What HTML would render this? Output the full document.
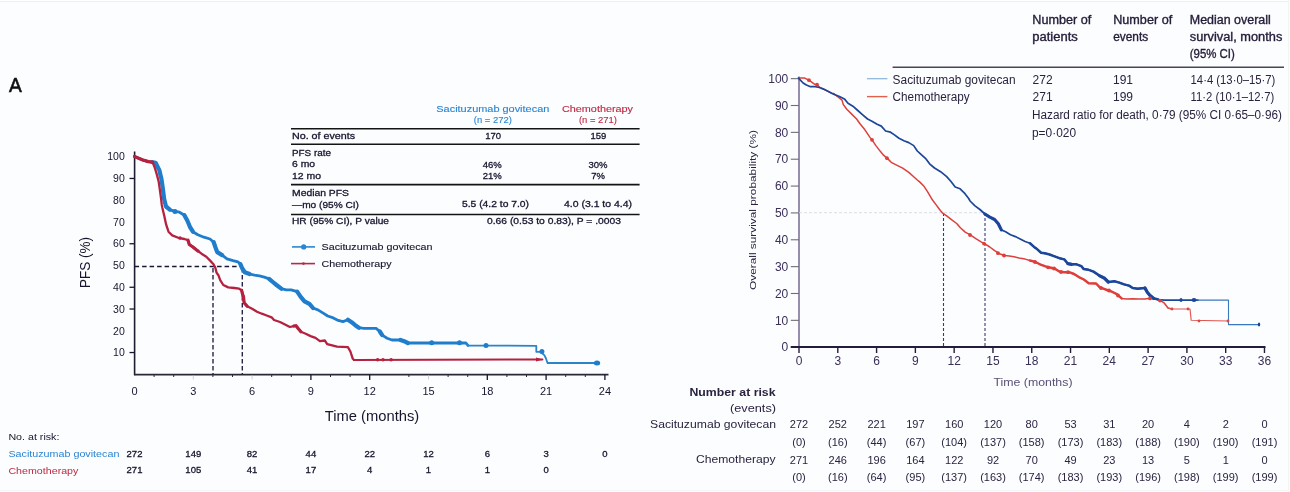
<!DOCTYPE html>
<html><head><meta charset="utf-8"><style>
html,body{margin:0;padding:0;background:#fcfdff;}
body{width:1290px;height:492px;overflow:hidden;}
svg{display:block;font-family:"Liberation Sans",sans-serif;will-change:transform;}
</style></head><body>
<svg width="1290" height="492" viewBox="0 0 1290 492">
<rect x="0" y="0" width="1290" height="492" fill="#fcfdff"/>
<rect x="0" y="0" width="1290" height="1" fill="#ffffff"/><rect x="0" y="1" width="1290" height="1" fill="#eeeff2"/><rect x="1288" y="0" width="1" height="492" fill="#f3f4f0"/><rect x="1289" y="0" width="1" height="492" fill="#ffffff"/><rect x="0" y="490" width="1288" height="1" fill="#f5f6f8"/>
<text x="9.0" y="91.9" font-size="21" fill="#111" stroke="#111" stroke-width="0.6" textLength="12.8" lengthAdjust="spacingAndGlyphs">A</text>
<line x1="134.6" y1="151.5" x2="134.6" y2="375.2" stroke="#1e1c30" stroke-width="1.6"/>
<line x1="134" y1="374.6" x2="608.5" y2="374.6" stroke="#2a2838" stroke-width="1.6"/>
<line x1="129.5" y1="352.54" x2="134.6" y2="352.54" stroke="#17152e" stroke-width="1.3"/>
<text x="124.8" y="356.2" font-size="10.5" fill="#17152e" text-anchor="end">10</text>
<text x="124.8" y="334.5" font-size="10.5" fill="#17152e" text-anchor="end">20</text>
<line x1="129.5" y1="309.02" x2="134.6" y2="309.02" stroke="#17152e" stroke-width="1.3"/>
<text x="124.8" y="312.7" font-size="10.5" fill="#17152e" text-anchor="end">30</text>
<line x1="129.5" y1="287.26" x2="134.6" y2="287.26" stroke="#17152e" stroke-width="1.3"/>
<text x="124.8" y="290.9" font-size="10.5" fill="#17152e" text-anchor="end">40</text>
<text x="124.8" y="269.2" font-size="10.5" fill="#17152e" text-anchor="end">50</text>
<line x1="129.5" y1="243.74" x2="134.6" y2="243.74" stroke="#17152e" stroke-width="1.3"/>
<text x="124.8" y="247.4" font-size="10.5" fill="#17152e" text-anchor="end">60</text>
<text x="124.8" y="225.7" font-size="10.5" fill="#17152e" text-anchor="end">70</text>
<text x="124.8" y="203.9" font-size="10.5" fill="#17152e" text-anchor="end">80</text>
<line x1="129.5" y1="178.46" x2="134.6" y2="178.46" stroke="#17152e" stroke-width="1.3"/>
<text x="124.8" y="182.1" font-size="10.5" fill="#17152e" text-anchor="end">90</text>
<text x="124.8" y="160.4" font-size="10.5" fill="#17152e" text-anchor="end">100</text>
<text x="134.5" y="395.2" font-size="11" fill="#17152e" text-anchor="middle">0</text>
<line x1="193.3" y1="375.5" x2="193.3" y2="379.5" stroke="#d0d0d8" stroke-width="1.0"/>
<text x="193.3" y="395.2" font-size="11" fill="#17152e" text-anchor="middle">3</text>
<line x1="252.10000000000002" y1="375.5" x2="252.10000000000002" y2="379.5" stroke="#d0d0d8" stroke-width="1.0"/>
<text x="252.1" y="395.2" font-size="11" fill="#17152e" text-anchor="middle">6</text>
<line x1="310.9" y1="374.6" x2="310.9" y2="380" stroke="#17152e" stroke-width="1.3"/>
<text x="310.9" y="395.2" font-size="11" fill="#17152e" text-anchor="middle">9</text>
<line x1="369.70000000000005" y1="374.6" x2="369.70000000000005" y2="380" stroke="#17152e" stroke-width="1.3"/>
<text x="369.7" y="395.2" font-size="11" fill="#17152e" text-anchor="middle">12</text>
<line x1="428.5" y1="375.5" x2="428.5" y2="379.5" stroke="#d0d0d8" stroke-width="1.0"/>
<text x="428.5" y="395.2" font-size="11" fill="#17152e" text-anchor="middle">15</text>
<line x1="487.3" y1="374.6" x2="487.3" y2="380" stroke="#17152e" stroke-width="1.3"/>
<text x="487.3" y="395.2" font-size="11" fill="#17152e" text-anchor="middle">18</text>
<line x1="546.1" y1="374.6" x2="546.1" y2="380" stroke="#17152e" stroke-width="1.3"/>
<text x="546.1" y="395.2" font-size="11" fill="#17152e" text-anchor="middle">21</text>
<line x1="604.9000000000001" y1="374.6" x2="604.9000000000001" y2="380" stroke="#17152e" stroke-width="1.3"/>
<text x="604.9" y="395.2" font-size="11" fill="#17152e" text-anchor="middle">24</text>
<line x1="154.1" y1="374.6" x2="154.1" y2="377" stroke="#2a2838" stroke-width="1.0"/>
<line x1="173.7" y1="374.6" x2="173.7" y2="377" stroke="#2a2838" stroke-width="1.0"/>
<line x1="212.9" y1="374.6" x2="212.9" y2="377" stroke="#2a2838" stroke-width="1.0"/>
<line x1="232.5" y1="374.6" x2="232.5" y2="377" stroke="#2a2838" stroke-width="1.0"/>
<line x1="271.70000000000005" y1="374.6" x2="271.70000000000005" y2="377" stroke="#2a2838" stroke-width="1.0"/>
<line x1="291.3" y1="374.6" x2="291.3" y2="377" stroke="#2a2838" stroke-width="1.0"/>
<line x1="330.5" y1="374.6" x2="330.5" y2="377" stroke="#2a2838" stroke-width="1.0"/>
<line x1="350.1" y1="374.6" x2="350.1" y2="377" stroke="#2a2838" stroke-width="1.0"/>
<line x1="408.90000000000003" y1="374.6" x2="408.90000000000003" y2="377" stroke="#2a2838" stroke-width="1.0"/>
<line x1="448.1" y1="374.6" x2="448.1" y2="377" stroke="#2a2838" stroke-width="1.0"/>
<line x1="467.70000000000005" y1="374.6" x2="467.70000000000005" y2="377" stroke="#2a2838" stroke-width="1.0"/>
<line x1="506.90000000000003" y1="374.6" x2="506.90000000000003" y2="377" stroke="#2a2838" stroke-width="1.0"/>
<line x1="526.5" y1="374.6" x2="526.5" y2="377" stroke="#2a2838" stroke-width="1.0"/>
<line x1="565.7" y1="374.6" x2="565.7" y2="377" stroke="#2a2838" stroke-width="1.0"/>
<line x1="585.3" y1="374.6" x2="585.3" y2="377" stroke="#2a2838" stroke-width="1.0"/>
<text x="85.5" y="267.4" font-size="14" fill="#17152e" text-anchor="middle" textLength="51" lengthAdjust="spacingAndGlyphs" transform="rotate(-90 85.5 262.5)">PFS (%)</text>
<text x="372.0" y="421.1" font-size="14.5" fill="#17152e" text-anchor="middle" textLength="94.5" lengthAdjust="spacingAndGlyphs">Time (months)</text>
<text x="492.8" y="111.5" font-size="9.5" fill="#2a84d0" stroke="#2a84d0" stroke-width="0.12" text-anchor="middle" textLength="113" lengthAdjust="spacingAndGlyphs">Sacituzumab govitecan</text>
<text x="492.8" y="123.0" font-size="9.5" fill="#2a84d0" stroke="#2a84d0" stroke-width="0.12" text-anchor="middle" textLength="38" lengthAdjust="spacingAndGlyphs">(n = 272)</text>
<text x="597.5" y="111.5" font-size="9.5" fill="#c0283f" stroke="#c0283f" stroke-width="0.12" text-anchor="middle" textLength="71" lengthAdjust="spacingAndGlyphs">Chemotherapy</text>
<text x="597.9" y="123.0" font-size="9.5" fill="#c0283f" stroke="#c0283f" stroke-width="0.12" text-anchor="middle" textLength="38" lengthAdjust="spacingAndGlyphs">(n = 271)</text>
<line x1="291" y1="128.8" x2="639.6" y2="128.8" stroke="#141414" stroke-width="1.6"/>
<line x1="291" y1="144.2" x2="639.6" y2="144.2" stroke="#141414" stroke-width="1.6"/>
<line x1="291" y1="184.6" x2="639.6" y2="184.6" stroke="#141414" stroke-width="1.6"/>
<line x1="291" y1="214.5" x2="639.6" y2="214.5" stroke="#141414" stroke-width="1.6"/>
<text x="292.0" y="138.9" font-size="9.5" fill="#17152e" stroke="#17152e" stroke-width="0.3" textLength="63" lengthAdjust="spacingAndGlyphs">No. of events</text>
<text x="493.2" y="138.9" font-size="9.5" fill="#17152e" stroke="#17152e" stroke-width="0.3" text-anchor="middle">170</text>
<text x="598.4" y="138.9" font-size="9.5" fill="#17152e" stroke="#17152e" stroke-width="0.3" text-anchor="middle">159</text>
<text x="292.0" y="155.9" font-size="9.5" fill="#17152e" stroke="#17152e" stroke-width="0.3" textLength="39" lengthAdjust="spacingAndGlyphs">PFS rate</text>
<text x="292.0" y="167.4" font-size="9.5" fill="#17152e" stroke="#17152e" stroke-width="0.3" textLength="23" lengthAdjust="spacingAndGlyphs">6 mo</text>
<text x="292.0" y="179.0" font-size="9.5" fill="#17152e" stroke="#17152e" stroke-width="0.3" textLength="29" lengthAdjust="spacingAndGlyphs">12 mo</text>
<text x="492.3" y="167.5" font-size="9.5" fill="#17152e" stroke="#17152e" stroke-width="0.3" text-anchor="middle">46%</text>
<text x="598.0" y="167.5" font-size="9.5" fill="#17152e" stroke="#17152e" stroke-width="0.3" text-anchor="middle">30%</text>
<text x="492.3" y="178.9" font-size="9.5" fill="#17152e" stroke="#17152e" stroke-width="0.3" text-anchor="middle">21%</text>
<text x="598.0" y="178.9" font-size="9.5" fill="#17152e" stroke="#17152e" stroke-width="0.3" text-anchor="middle">7%</text>
<text x="292.0" y="195.9" font-size="9.5" fill="#17152e" stroke="#17152e" stroke-width="0.3" textLength="57" lengthAdjust="spacingAndGlyphs">Median PFS</text>
<text x="292.0" y="207.8" font-size="9.5" fill="#17152e" stroke="#17152e" stroke-width="0.3" textLength="67" lengthAdjust="spacingAndGlyphs">—mo (95% CI)</text>
<text x="495.5" y="207.3" font-size="9.5" fill="#17152e" stroke="#17152e" stroke-width="0.3" text-anchor="middle" textLength="67" lengthAdjust="spacingAndGlyphs">5.5 (4.2 to 7.0)</text>
<text x="598.0" y="207.3" font-size="9.5" fill="#17152e" stroke="#17152e" stroke-width="0.3" text-anchor="middle" textLength="68" lengthAdjust="spacingAndGlyphs">4.0 (3.1 to 4.4)</text>
<text x="292.0" y="224.1" font-size="9.5" fill="#17152e" stroke="#17152e" stroke-width="0.3" textLength="97" lengthAdjust="spacingAndGlyphs">HR (95% CI), P value</text>
<text x="554.0" y="224.1" font-size="9.5" fill="#17152e" stroke="#17152e" stroke-width="0.3" text-anchor="middle" textLength="134" lengthAdjust="spacingAndGlyphs">0.66 (0.53 to 0.83), P = .0003</text>
<line x1="292" y1="246.9" x2="315" y2="246.9" stroke="#2a86d0" stroke-width="1.6"/>
<circle cx="303.7" cy="246.9" r="2.6" fill="#2a86d0"/>
<text x="321.5" y="250.3" font-size="9.5" fill="#17152e" stroke="#17152e" stroke-width="0.12" textLength="111" lengthAdjust="spacingAndGlyphs">Sacituzumab govitecan</text>
<line x1="291" y1="263.6" x2="315" y2="263.6" stroke="#b8284a" stroke-width="1.6"/>
<circle cx="303.5" cy="263.6" r="1.3" fill="#b42a42"/>
<text x="321.5" y="266.8" font-size="9.5" fill="#17152e" stroke="#17152e" stroke-width="0.12" textLength="70" lengthAdjust="spacingAndGlyphs">Chemotherapy</text>
<line x1="134.6" y1="266.5" x2="240" y2="266.5" stroke="#1a1830" stroke-width="1.6" stroke-dasharray="4.5,3"/>
<line x1="213" y1="268" x2="213" y2="374" stroke="#2a2248" stroke-width="1.4" stroke-dasharray="4.5,2.5"/>
<line x1="242.3" y1="268" x2="242.3" y2="374" stroke="#2a2248" stroke-width="1.4" stroke-dasharray="4.5,2.5"/>
<polyline points="134.5,156.5 142.2,159.8 148.3,161.6 152.6,162.2 155.6,162.8 159.3,170.1 161.5,179.3 162.9,189.0 164.1,198.8 166.0,206.5 169.8,209.6 174.6,211.4 179.5,212.2 184.4,215.2 187.4,220.7 189.9,226.8 192.9,231.7 197.8,234.8 203.9,237.2 210.0,239.0 213.7,242.2 215.5,247.5 217.2,252.1 222.1,255.1 227.0,258.8 233.0,260.6 237.9,261.8 240.4,264.2 242.3,268.5 244.8,272.2 249.6,274.0 254.5,275.2 259.4,275.9 264.3,277.1 269.1,278.9 272.8,282.0 276.5,285.0 281.3,288.7 286.2,289.9 291.1,289.8 297.2,291.6 300.9,297.1 304.5,301.3 309.4,303.8 313.0,308.0 317.9,309.9 322.8,312.9 327.7,316.0 333.3,317.9 338.2,320.4 343.0,321.6 347.9,319.8 351.6,322.2 355.2,325.2 358.9,327.7 363.8,328.3 376.1,328.4 379.8,331.5 382.2,335.1 387.1,338.2 392.0,340.0 400.5,340.0 404.1,341.2 407.8,343.0 466.0,343.0 468.0,345.5" fill="none" stroke="#1f7dcc" stroke-width="2.8" stroke-linejoin="round" stroke-linecap="round" />
<polyline points="466.0,343.0 468.0,345.5 536.3,345.8 536.3,351.8 540.4,351.8 544.5,355.4 546.0,358.5 547.5,363.0 598.0,363.0" fill="none" stroke="#2a84c8" stroke-width="1.8" stroke-linejoin="round" stroke-linecap="round" />
<polyline points="152.6,162.2 155.6,162.8 159.3,170.1 161.5,179.3 162.9,189.0 164.1,198.8 166.0,206.5 169.8,209.6" fill="none" stroke="#1f7dcc" stroke-width="4.2" stroke-linejoin="round" stroke-linecap="round" />
<polyline points="184.4,215.2 187.4,220.7 189.9,226.8 192.9,231.7" fill="none" stroke="#1f7dcc" stroke-width="4.2" stroke-linejoin="round" stroke-linecap="round" />
<polyline points="213.7,242.2 215.5,247.5 217.2,252.1 222.1,255.1" fill="none" stroke="#1f7dcc" stroke-width="4.2" stroke-linejoin="round" stroke-linecap="round" />
<polyline points="240.4,264.2 242.3,268.5 244.8,272.2 249.6,274.0" fill="none" stroke="#1f7dcc" stroke-width="4.2" stroke-linejoin="round" stroke-linecap="round" />
<polyline points="269.1,278.9 272.8,282.0 276.5,285.0 281.3,288.7" fill="none" stroke="#1f7dcc" stroke-width="4.2" stroke-linejoin="round" stroke-linecap="round" />
<polyline points="297.2,291.6 300.9,297.1 304.5,301.3 309.4,303.8 313.0,308.0" fill="none" stroke="#1f7dcc" stroke-width="4.2" stroke-linejoin="round" stroke-linecap="round" />
<polyline points="347.9,319.8 351.6,322.2 355.2,325.2 358.9,327.7" fill="none" stroke="#1f7dcc" stroke-width="4.2" stroke-linejoin="round" stroke-linecap="round" />
<polyline points="379.8,331.5 382.2,335.1" fill="none" stroke="#1f7dcc" stroke-width="4.2" stroke-linejoin="round" stroke-linecap="round" />
<polyline points="400.5,340.0 404.1,341.2 407.8,343.0" fill="none" stroke="#1f7dcc" stroke-width="4.2" stroke-linejoin="round" stroke-linecap="round" />
<polyline points="134.5,156.5 142.2,159.8 148.3,161.6 152.6,162.2 155.0,168.3 156.8,174.4 158.7,181.7 159.9,190.2 161.1,198.8 161.8,205.0 162.4,208.0 164.3,215.9 166.1,224.4 168.5,231.7 172.2,235.4 178.3,237.8 184.4,239.0 188.0,240.2 189.3,244.5 192.9,247.0 196.6,250.0 201.5,253.7 206.3,256.7 209.9,260.4 213.5,264.3 215.4,267.9 216.6,272.8 218.4,275.2 220.2,280.1 223.3,285.0 228.2,287.4 234.3,288.0 239.1,288.7 241.6,290.3 242.8,295.0 243.5,296.6 244.1,302.7 247.2,306.3 252.1,308.8 257.0,311.8 261.8,313.7 266.7,315.5 271.6,317.3 274.0,320.0 280.0,322.0 285.0,324.5 289.9,327.0 296.0,325.7 298.4,328.8 300.9,331.8 305.7,333.7 310.6,336.1 315.5,337.9 319.9,341.1 324.8,340.5 327.2,344.1 332.1,345.4 337.0,346.6 347.9,347.2 350.4,351.5 352.8,358.8 354.0,360.0" fill="none" stroke="#b5213f" stroke-width="2.3" stroke-linejoin="round" stroke-linecap="round" />
<polyline points="354.0,360.0 542.4,359.5" fill="none" stroke="#b5213f" stroke-width="2.0" stroke-linejoin="round" stroke-linecap="round" />
<polyline points="134.5,156.5 142.2,159.8 148.3,161.6 152.6,162.2" fill="none" stroke="#b5213f" stroke-width="3.2" stroke-linejoin="round" stroke-linecap="round" />
<polyline points="188.0,240.2 189.3,244.5 192.9,247.0 196.6,250.0" fill="none" stroke="#b5213f" stroke-width="3.2" stroke-linejoin="round" stroke-linecap="round" />
<polyline points="241.6,290.3 242.8,295.0 243.5,296.6 244.1,302.7 247.2,306.3" fill="none" stroke="#b5213f" stroke-width="3.2" stroke-linejoin="round" stroke-linecap="round" />
<polyline points="296.0,325.7 298.4,328.8 300.9,331.8" fill="none" stroke="#b5213f" stroke-width="3.2" stroke-linejoin="round" stroke-linecap="round" />
<circle cx="175.0" cy="211.4" r="2.5" fill="#1f7dcc"/>
<circle cx="431.7" cy="342.8" r="2.5" fill="#1f7dcc"/>
<circle cx="459.5" cy="342.8" r="2.5" fill="#1f7dcc"/>
<circle cx="486.0" cy="345.6" r="2.5" fill="#1f7dcc"/>
<circle cx="541.9" cy="351.5" r="2.5" fill="#1f7dcc"/>
<ellipse cx="597" cy="363" rx="3.2" ry="2.5" fill="#1f7dcc"/>
<circle cx="377.6" cy="359.7" r="1.7" fill="#b5213f"/>
<circle cx="383.0" cy="359.7" r="1.7" fill="#b5213f"/>
<circle cx="391.1" cy="359.7" r="1.7" fill="#b5213f"/>
<circle cx="180.0" cy="238.0" r="1.7" fill="#b5213f"/>
<circle cx="198.0" cy="251.0" r="1.7" fill="#b5213f"/>
<circle cx="294.0" cy="326.0" r="1.7" fill="#b5213f"/>
<path d="M536,357.5 L543,359.5 L536,361.5 Z" fill="#b5213f"/>
<text x="8.4" y="439.8" font-size="9" fill="#17152e" textLength="51" lengthAdjust="spacingAndGlyphs">No. at risk:</text>
<text x="8.4" y="456.8" font-size="9.5" fill="#2a84d0" textLength="111" lengthAdjust="spacingAndGlyphs">Sacituzumab govitecan</text>
<text x="8.4" y="473.6" font-size="9.5" fill="#c0283f" textLength="70" lengthAdjust="spacingAndGlyphs">Chemotherapy</text>
<text x="134.5" y="457.0" font-size="9.5" fill="#17152e" stroke="#17152e" stroke-width="0.3" text-anchor="middle">272</text>
<text x="193.3" y="457.0" font-size="9.5" fill="#17152e" stroke="#17152e" stroke-width="0.3" text-anchor="middle">149</text>
<text x="252.1" y="457.0" font-size="9.5" fill="#17152e" stroke="#17152e" stroke-width="0.3" text-anchor="middle">82</text>
<text x="310.9" y="457.0" font-size="9.5" fill="#17152e" stroke="#17152e" stroke-width="0.3" text-anchor="middle">44</text>
<text x="369.7" y="457.0" font-size="9.5" fill="#17152e" stroke="#17152e" stroke-width="0.3" text-anchor="middle">22</text>
<text x="428.5" y="457.0" font-size="9.5" fill="#17152e" stroke="#17152e" stroke-width="0.3" text-anchor="middle">12</text>
<text x="487.3" y="457.0" font-size="9.5" fill="#17152e" stroke="#17152e" stroke-width="0.3" text-anchor="middle">6</text>
<text x="546.1" y="457.0" font-size="9.5" fill="#17152e" stroke="#17152e" stroke-width="0.3" text-anchor="middle">3</text>
<text x="604.9" y="457.0" font-size="9.5" fill="#17152e" stroke="#17152e" stroke-width="0.3" text-anchor="middle">0</text>
<text x="134.5" y="473.1" font-size="9.5" fill="#17152e" stroke="#17152e" stroke-width="0.3" text-anchor="middle">271</text>
<text x="193.3" y="473.1" font-size="9.5" fill="#17152e" stroke="#17152e" stroke-width="0.3" text-anchor="middle">105</text>
<text x="252.1" y="473.1" font-size="9.5" fill="#17152e" stroke="#17152e" stroke-width="0.3" text-anchor="middle">41</text>
<text x="310.9" y="473.1" font-size="9.5" fill="#17152e" stroke="#17152e" stroke-width="0.3" text-anchor="middle">17</text>
<text x="369.7" y="473.1" font-size="9.5" fill="#17152e" stroke="#17152e" stroke-width="0.3" text-anchor="middle">4</text>
<text x="428.5" y="473.1" font-size="9.5" fill="#17152e" stroke="#17152e" stroke-width="0.3" text-anchor="middle">1</text>
<text x="487.3" y="473.1" font-size="9.5" fill="#17152e" stroke="#17152e" stroke-width="0.3" text-anchor="middle">1</text>
<text x="546.1" y="473.1" font-size="9.5" fill="#17152e" stroke="#17152e" stroke-width="0.3" text-anchor="middle">0</text>
<line x1="799" y1="76.5" x2="799" y2="347" stroke="#76698f" stroke-width="1.5"/>
<line x1="790.7" y1="347" x2="1265.5" y2="347" stroke="#241c3a" stroke-width="2"/>
<text x="788.3" y="351.4" font-size="12" fill="#3a2f58" text-anchor="end">0</text>
<line x1="790.8" y1="320.34499999999997" x2="799" y2="320.34499999999997" stroke="#6e6e78" stroke-width="1.1"/>
<text x="788.3" y="324.5" font-size="12" fill="#3a2f58" text-anchor="end">10</text>
<line x1="790.8" y1="293.49" x2="799" y2="293.49" stroke="#6e6e78" stroke-width="1.1"/>
<text x="788.3" y="297.7" font-size="12" fill="#3a2f58" text-anchor="end">20</text>
<line x1="790.8" y1="266.635" x2="799" y2="266.635" stroke="#6e6e78" stroke-width="1.1"/>
<text x="788.3" y="270.8" font-size="12" fill="#3a2f58" text-anchor="end">30</text>
<line x1="790.8" y1="239.77999999999997" x2="799" y2="239.77999999999997" stroke="#6e6e78" stroke-width="1.1"/>
<text x="788.3" y="244.0" font-size="12" fill="#3a2f58" text-anchor="end">40</text>
<line x1="790.8" y1="212.92499999999998" x2="799" y2="212.92499999999998" stroke="#6e6e78" stroke-width="1.1"/>
<text x="788.3" y="217.1" font-size="12" fill="#3a2f58" text-anchor="end">50</text>
<line x1="790.8" y1="186.06999999999996" x2="799" y2="186.06999999999996" stroke="#6e6e78" stroke-width="1.1"/>
<text x="788.3" y="190.3" font-size="12" fill="#3a2f58" text-anchor="end">60</text>
<line x1="790.8" y1="159.21499999999997" x2="799" y2="159.21499999999997" stroke="#6e6e78" stroke-width="1.1"/>
<text x="788.3" y="163.4" font-size="12" fill="#3a2f58" text-anchor="end">70</text>
<line x1="790.8" y1="132.35999999999996" x2="799" y2="132.35999999999996" stroke="#6e6e78" stroke-width="1.1"/>
<text x="788.3" y="136.6" font-size="12" fill="#3a2f58" text-anchor="end">80</text>
<line x1="790.8" y1="105.50499999999997" x2="799" y2="105.50499999999997" stroke="#6e6e78" stroke-width="1.1"/>
<text x="788.3" y="109.7" font-size="12" fill="#3a2f58" text-anchor="end">90</text>
<line x1="790.8" y1="78.64999999999998" x2="799" y2="78.64999999999998" stroke="#6e6e78" stroke-width="1.1"/>
<text x="788.3" y="82.8" font-size="12" fill="#3a2f58" text-anchor="end">100</text>
<line x1="799.0" y1="347" x2="799.0" y2="353" stroke="#241c3a" stroke-width="1.4"/>
<text x="799.0" y="365.2" font-size="12" fill="#3a2f58" text-anchor="middle">0</text>
<line x1="837.79" y1="347" x2="837.79" y2="353" stroke="#241c3a" stroke-width="1.4"/>
<text x="837.8" y="365.2" font-size="12" fill="#3a2f58" text-anchor="middle">3</text>
<line x1="876.58" y1="347" x2="876.58" y2="353" stroke="#241c3a" stroke-width="1.4"/>
<text x="876.6" y="365.2" font-size="12" fill="#3a2f58" text-anchor="middle">6</text>
<line x1="915.37" y1="347" x2="915.37" y2="353" stroke="#241c3a" stroke-width="1.4"/>
<text x="915.4" y="365.2" font-size="12" fill="#3a2f58" text-anchor="middle">9</text>
<line x1="954.16" y1="347" x2="954.16" y2="353" stroke="#241c3a" stroke-width="1.4"/>
<text x="954.2" y="365.2" font-size="12" fill="#3a2f58" text-anchor="middle">12</text>
<line x1="992.95" y1="347" x2="992.95" y2="353" stroke="#241c3a" stroke-width="1.4"/>
<text x="993.0" y="365.2" font-size="12" fill="#3a2f58" text-anchor="middle">15</text>
<line x1="1031.74" y1="347" x2="1031.74" y2="353" stroke="#241c3a" stroke-width="1.4"/>
<text x="1031.7" y="365.2" font-size="12" fill="#3a2f58" text-anchor="middle">18</text>
<line x1="1070.53" y1="347" x2="1070.53" y2="353" stroke="#241c3a" stroke-width="1.4"/>
<text x="1070.5" y="365.2" font-size="12" fill="#3a2f58" text-anchor="middle">21</text>
<line x1="1109.32" y1="347" x2="1109.32" y2="353" stroke="#241c3a" stroke-width="1.4"/>
<text x="1109.3" y="365.2" font-size="12" fill="#3a2f58" text-anchor="middle">24</text>
<line x1="1148.1100000000001" y1="347" x2="1148.1100000000001" y2="353" stroke="#241c3a" stroke-width="1.4"/>
<text x="1148.1" y="365.2" font-size="12" fill="#3a2f58" text-anchor="middle">27</text>
<line x1="1186.9" y1="347" x2="1186.9" y2="353" stroke="#241c3a" stroke-width="1.4"/>
<text x="1186.9" y="365.2" font-size="12" fill="#3a2f58" text-anchor="middle">30</text>
<line x1="1225.69" y1="347" x2="1225.69" y2="353" stroke="#241c3a" stroke-width="1.4"/>
<text x="1225.7" y="365.2" font-size="12" fill="#3a2f58" text-anchor="middle">33</text>
<line x1="1264.48" y1="347" x2="1264.48" y2="353" stroke="#241c3a" stroke-width="1.4"/>
<text x="1264.5" y="365.2" font-size="12" fill="#3a2f58" text-anchor="middle">36</text>
<text x="752.4" y="213.3" font-size="9.5" fill="#2a2340" text-anchor="middle" textLength="160" lengthAdjust="spacingAndGlyphs" transform="rotate(-90 752.4 210.0)">Overall survival probability (%)</text>
<text x="1033.0" y="386.4" font-size="11" fill="#5a5078" text-anchor="middle" textLength="79" lengthAdjust="spacingAndGlyphs">Time (months)</text>
<text x="1032.3" y="23.5" font-size="12" fill="#231c38" stroke="#231c38" stroke-width="0.35" textLength="59" lengthAdjust="spacingAndGlyphs">Number of</text>
<text x="1032.3" y="40.7" font-size="12" fill="#231c38" stroke="#231c38" stroke-width="0.35" textLength="45.5" lengthAdjust="spacingAndGlyphs">patients</text>
<text x="1113.2" y="23.5" font-size="12" fill="#231c38" stroke="#231c38" stroke-width="0.35" textLength="59" lengthAdjust="spacingAndGlyphs">Number of</text>
<text x="1113.2" y="40.7" font-size="12" fill="#231c38" stroke="#231c38" stroke-width="0.35" textLength="35" lengthAdjust="spacingAndGlyphs">events</text>
<text x="1189.8" y="23.5" font-size="12" fill="#231c38" stroke="#231c38" stroke-width="0.35" textLength="81" lengthAdjust="spacingAndGlyphs">Median overall</text>
<text x="1189.8" y="40.7" font-size="12" fill="#231c38" stroke="#231c38" stroke-width="0.35" textLength="92.5" lengthAdjust="spacingAndGlyphs">survival, months</text>
<text x="1189.8" y="57.9" font-size="12" fill="#231c38" stroke="#231c38" stroke-width="0.35" textLength="45" lengthAdjust="spacingAndGlyphs">(95% CI)</text>
<line x1="892.6" y1="67.3" x2="1284" y2="67.3" stroke="#4a4458" stroke-width="1.4"/>
<line x1="867" y1="78.7" x2="887.4" y2="78.7" stroke="#8ab4d8" stroke-width="1.2"/>
<line x1="867" y1="96.6" x2="887.4" y2="96.6" stroke="#e0604a" stroke-width="1.4"/>
<text x="892.6" y="83.7" font-size="12" fill="#2a2340" textLength="123" lengthAdjust="spacingAndGlyphs">Sacituzumab govitecan</text>
<text x="892.6" y="101.0" font-size="12" fill="#2a2340" textLength="77" lengthAdjust="spacingAndGlyphs">Chemotherapy</text>
<text x="1032.6" y="83.8" font-size="12" fill="#2a2340">272</text>
<text x="1032.6" y="101.0" font-size="12" fill="#2a2340">271</text>
<text x="1113.0" y="83.8" font-size="12" fill="#2a2340">191</text>
<text x="1113.0" y="101.0" font-size="12" fill="#2a2340">199</text>
<text x="1190.6" y="83.8" font-size="12" fill="#2a2340" textLength="84.7" lengthAdjust="spacingAndGlyphs">14·4 (13·0–15·7)</text>
<text x="1190.6" y="101.0" font-size="12" fill="#2a2340" textLength="83.7" lengthAdjust="spacingAndGlyphs">11·2 (10·1–12·7)</text>
<text x="1032.0" y="119.4" font-size="12" fill="#2a2340" textLength="250" lengthAdjust="spacingAndGlyphs">Hazard ratio for death, 0·79 (95% CI 0·65–0·96)</text>
<text x="1032.0" y="136.6" font-size="12" fill="#2a2340" textLength="44" lengthAdjust="spacingAndGlyphs">p=0·020</text>
<line x1="799" y1="212.7" x2="985" y2="212.7" stroke="#dcdce6" stroke-width="1" stroke-dasharray="3,2"/>
<line x1="943.5" y1="213" x2="943.5" y2="347" stroke="#3a3a70" stroke-width="1.1" stroke-dasharray="3,2"/>
<line x1="985" y1="213" x2="985" y2="347" stroke="#3a3a70" stroke-width="1.1" stroke-dasharray="3,2"/>
<polyline points="798.5,78.1 804.8,78.1 808.8,80.2 811.3,81.8 814.5,84.2 817.0,84.6 819.4,87.1 823.5,89.1 827.5,91.1 831.6,93.2 833.4,93.4 838.3,97.1 842.0,100.1 843.2,104.4 846.8,109.3 851.7,114.1 856.6,119.0 860.0,123.7 864.9,129.8 869.8,137.1 872.2,140.1 875.9,145.6 880.1,151.1 883.8,155.4 887.4,158.4 891.7,162.7 896.6,165.1 902.7,168.2 908.8,172.4 913.7,176.7 917.3,180.0 919.9,182.1 923.5,185.7 927.2,191.2 930.9,197.3 932.3,199.8 936.0,204.6 939.6,209.5 942.7,213.2 947.0,216.2 951.8,219.9 956.7,223.5 960.4,227.8 965.2,232.1 970.7,235.1 976.2,238.8 981.1,241.8 984.9,243.9 989.8,247.0 994.6,250.6 999.5,253.7 1004.4,255.5 1009.3,256.1 1014.1,256.7 1019.0,257.9 1025.1,259.1 1030.0,260.5 1035.0,261.8 1039.9,264.3 1044.8,266.1 1048.4,267.3 1054.5,268.5 1059.4,271.6 1064.3,272.2 1069.1,272.2 1074.0,274.0 1078.9,277.1 1083.8,279.5 1088.7,283.2 1096.1,283.5 1099.8,287.4 1103.4,288.7 1108.3,290.5 1112.0,291.7 1116.8,294.1 1121.7,298.4 1126.6,299.0 1132.7,298.8 1138.8,299.0 1144.9,298.9 1149.8,298.3 1155.9,298.9 1160.7,300.7 1164.4,303.2 1168.0,308.0 1171.7,309.0" fill="none" stroke="#de3f3a" stroke-width="1.5" stroke-linejoin="round" stroke-linecap="round" />
<polyline points="1168.0,308.0 1171.7,309.0 1190.0,309.0 1191.2,320.2 1228.0,321.0" fill="none" stroke="#e05550" stroke-width="1.15" stroke-linejoin="round" stroke-linecap="round" />
<polyline points="798.5,78.1 803.1,83.0 806.4,85.0 810.4,86.7 815.3,86.7 819.4,87.5 823.5,89.1 827.5,91.1 831.6,93.2 835.0,94.8 839.5,96.5 844.4,98.9 848.0,103.2 852.9,106.2 857.8,110.5 862.7,114.8 867.6,119.0 872.4,121.5 877.1,124.3 881.3,126.1 885.6,131.0 890.5,132.2 894.1,134.6 899.0,138.3 903.9,140.7 908.8,142.6 913.7,145.6 917.3,151.0 919.9,153.4 926.0,158.9 929.6,163.8 934.5,168.0 940.6,171.7 946.7,176.6 951.0,181.5 955.2,187.0 960.1,188.8 965.0,193.7 968.7,198.5 970.1,201.0 975.0,205.9 979.9,209.5 984.9,214.0 989.8,217.1 994.6,219.5 998.3,223.8 1001.3,229.9 1005.6,231.7 1010.5,234.8 1015.4,236.6 1020.2,239.0 1025.1,241.5 1030.0,243.3 1034.9,247.6 1036.2,248.4 1041.1,252.7 1044.8,253.3 1049.6,254.5 1054.5,256.3 1059.4,258.2 1064.3,259.4 1067.9,263.7 1071.6,264.3 1076.5,264.3 1081.3,266.1 1083.8,269.1 1088.7,269.8 1093.5,271.6 1099.8,275.9 1104.6,278.3 1108.3,282.0 1114.4,281.3 1119.3,282.6 1124.1,284.4 1129.0,285.6 1132.7,288.0 1137.6,288.7 1144.9,287.9 1147.3,292.2 1149.8,295.2 1153.4,298.3 1158.3,299.5 1164.4,300.1 1198.0,300.1" fill="none" stroke="#1b469a" stroke-width="1.7" stroke-linejoin="round" stroke-linecap="round" />
<polyline points="1198.0,300.1 1228.5,300.1 1228.5,324.6 1259.0,324.6" fill="none" stroke="#3a78c0" stroke-width="1.1" stroke-linejoin="round" stroke-linecap="round" />
<polyline points="1030.0,243.3 1034.9,247.6 1036.2,248.4 1041.1,252.7 1044.8,253.3 1049.6,254.5 1054.5,256.3 1059.4,258.2 1064.3,259.4 1067.9,263.7 1071.6,264.3 1076.5,264.3 1081.3,266.1 1083.8,269.1 1088.7,269.8 1093.5,271.6 1099.8,275.9 1104.6,278.3 1108.3,282.0 1114.4,281.3 1119.3,282.6 1124.1,284.4 1129.0,285.6 1132.7,288.0 1137.6,288.7 1144.9,287.9 1147.3,292.2 1149.8,295.2 1153.4,298.3 1158.3,299.5" fill="none" stroke="#1b469a" stroke-width="2.5" stroke-linejoin="round" stroke-linecap="round" />
<polyline points="1030.0,260.5 1035.0,261.8 1039.9,264.3 1044.8,266.1 1048.4,267.3 1054.5,268.5 1059.4,271.6 1064.3,272.2 1069.1,272.2 1074.0,274.0 1078.9,277.1 1083.8,279.5 1088.7,283.2 1096.1,283.5 1099.8,287.4 1103.4,288.7 1108.3,290.5 1112.0,291.7 1116.8,294.1 1121.7,298.4" fill="none" stroke="#de3f3a" stroke-width="2.4" stroke-linejoin="round" stroke-linecap="round" />
<polyline points="984.9,214.0 989.8,217.1 994.6,219.5 998.3,223.8 1001.3,229.9" fill="none" stroke="#1b469a" stroke-width="3.2" stroke-linejoin="round" stroke-linecap="round" />
<polyline points="1067.9,263.7 1071.6,264.3" fill="none" stroke="#1b469a" stroke-width="3.2" stroke-linejoin="round" stroke-linecap="round" />
<polyline points="1099.8,275.9 1104.6,278.3 1108.3,282.0" fill="none" stroke="#1b469a" stroke-width="3.2" stroke-linejoin="round" stroke-linecap="round" />
<polyline points="1144.9,287.9 1147.3,292.2 1149.8,295.2 1153.4,298.3" fill="none" stroke="#1b469a" stroke-width="3.2" stroke-linejoin="round" stroke-linecap="round" />
<ellipse cx="1181.0" cy="300.1" rx="1.5" ry="2.0" fill="#1b469a"/>
<ellipse cx="1194.0" cy="300.1" rx="2.4" ry="2.0" fill="#1b469a"/>
<ellipse cx="1259.0" cy="324.6" rx="1.2" ry="2.0" fill="#1b469a"/>
<circle cx="809.0" cy="80.2" r="1.9" fill="#de3f3a"/>
<circle cx="817.0" cy="84.6" r="1.9" fill="#de3f3a"/>
<circle cx="872.0" cy="139.8" r="1.9" fill="#de3f3a"/>
<circle cx="887.0" cy="158.2" r="1.9" fill="#de3f3a"/>
<circle cx="970.0" cy="235.0" r="1.9" fill="#de3f3a"/>
<circle cx="984.0" cy="243.6" r="1.9" fill="#de3f3a"/>
<circle cx="998.0" cy="253.2" r="1.9" fill="#de3f3a"/>
<circle cx="1004.0" cy="255.5" r="1.9" fill="#de3f3a"/>
<circle cx="1035.0" cy="262.0" r="1.9" fill="#de3f3a"/>
<circle cx="1048.0" cy="267.3" r="1.9" fill="#de3f3a"/>
<circle cx="1054.0" cy="268.5" r="1.9" fill="#de3f3a"/>
<circle cx="1061.0" cy="272.0" r="1.9" fill="#de3f3a"/>
<circle cx="1068.0" cy="272.2" r="1.9" fill="#de3f3a"/>
<circle cx="1101.0" cy="288.0" r="1.9" fill="#de3f3a"/>
<circle cx="1109.0" cy="290.5" r="1.9" fill="#de3f3a"/>
<circle cx="1118.0" cy="295.5" r="1.9" fill="#de3f3a"/>
<circle cx="1150.0" cy="298.4" r="1.9" fill="#de3f3a"/>
<circle cx="1160.0" cy="300.6" r="1.9" fill="#de3f3a"/>
<circle cx="1172.0" cy="309.0" r="1.4" fill="#d84848"/>
<circle cx="1188.0" cy="309.0" r="1.4" fill="#d84848"/>
<circle cx="1199.0" cy="321.0" r="1.4" fill="#d84848"/>
<circle cx="1228.0" cy="321.0" r="1.4" fill="#d84848"/>
<text x="775.5" y="395.7" font-size="11" fill="#2a2340" text-anchor="end" textLength="86" lengthAdjust="spacingAndGlyphs" font-weight="bold">Number at risk</text>
<text x="776.0" y="411.7" font-size="11" fill="#2a2340" text-anchor="end" textLength="46" lengthAdjust="spacingAndGlyphs">(events)</text>
<text x="776.0" y="427.9" font-size="11" fill="#2a2340" text-anchor="end" textLength="126" lengthAdjust="spacingAndGlyphs">Sacituzumab govitecan</text>
<text x="775.5" y="462.9" font-size="11" fill="#2a2340" text-anchor="end" textLength="79.5" lengthAdjust="spacingAndGlyphs">Chemotherapy</text>
<text x="799.0" y="427.9" font-size="11" fill="#2a2340" text-anchor="middle">272</text>
<text x="799.0" y="445.9" font-size="11" fill="#2a2340" text-anchor="middle">(0)</text>
<text x="799.0" y="463.6" font-size="11" fill="#2a2340" text-anchor="middle">271</text>
<text x="799.0" y="480.7" font-size="11" fill="#2a2340" text-anchor="middle">(0)</text>
<text x="837.8" y="427.9" font-size="11" fill="#2a2340" text-anchor="middle">252</text>
<text x="837.8" y="445.9" font-size="11" fill="#2a2340" text-anchor="middle">(16)</text>
<text x="837.8" y="463.6" font-size="11" fill="#2a2340" text-anchor="middle">246</text>
<text x="837.8" y="480.7" font-size="11" fill="#2a2340" text-anchor="middle">(16)</text>
<text x="876.6" y="427.9" font-size="11" fill="#2a2340" text-anchor="middle">221</text>
<text x="876.6" y="445.9" font-size="11" fill="#2a2340" text-anchor="middle">(44)</text>
<text x="876.6" y="463.6" font-size="11" fill="#2a2340" text-anchor="middle">196</text>
<text x="876.6" y="480.7" font-size="11" fill="#2a2340" text-anchor="middle">(64)</text>
<text x="915.4" y="427.9" font-size="11" fill="#2a2340" text-anchor="middle">197</text>
<text x="915.4" y="445.9" font-size="11" fill="#2a2340" text-anchor="middle">(67)</text>
<text x="915.4" y="463.6" font-size="11" fill="#2a2340" text-anchor="middle">164</text>
<text x="915.4" y="480.7" font-size="11" fill="#2a2340" text-anchor="middle">(95)</text>
<text x="954.2" y="427.9" font-size="11" fill="#2a2340" text-anchor="middle">160</text>
<text x="954.2" y="445.9" font-size="11" fill="#2a2340" text-anchor="middle">(104)</text>
<text x="954.2" y="463.6" font-size="11" fill="#2a2340" text-anchor="middle">122</text>
<text x="954.2" y="480.7" font-size="11" fill="#2a2340" text-anchor="middle">(137)</text>
<text x="993.0" y="427.9" font-size="11" fill="#2a2340" text-anchor="middle">120</text>
<text x="993.0" y="445.9" font-size="11" fill="#2a2340" text-anchor="middle">(137)</text>
<text x="993.0" y="463.6" font-size="11" fill="#2a2340" text-anchor="middle">92</text>
<text x="993.0" y="480.7" font-size="11" fill="#2a2340" text-anchor="middle">(163)</text>
<text x="1031.7" y="427.9" font-size="11" fill="#2a2340" text-anchor="middle">80</text>
<text x="1031.7" y="445.9" font-size="11" fill="#2a2340" text-anchor="middle">(158)</text>
<text x="1031.7" y="463.6" font-size="11" fill="#2a2340" text-anchor="middle">70</text>
<text x="1031.7" y="480.7" font-size="11" fill="#2a2340" text-anchor="middle">(174)</text>
<text x="1070.5" y="427.9" font-size="11" fill="#2a2340" text-anchor="middle">53</text>
<text x="1070.5" y="445.9" font-size="11" fill="#2a2340" text-anchor="middle">(173)</text>
<text x="1070.5" y="463.6" font-size="11" fill="#2a2340" text-anchor="middle">49</text>
<text x="1070.5" y="480.7" font-size="11" fill="#2a2340" text-anchor="middle">(183)</text>
<text x="1109.3" y="427.9" font-size="11" fill="#2a2340" text-anchor="middle">31</text>
<text x="1109.3" y="445.9" font-size="11" fill="#2a2340" text-anchor="middle">(183)</text>
<text x="1109.3" y="463.6" font-size="11" fill="#2a2340" text-anchor="middle">23</text>
<text x="1109.3" y="480.7" font-size="11" fill="#2a2340" text-anchor="middle">(193)</text>
<text x="1148.1" y="427.9" font-size="11" fill="#2a2340" text-anchor="middle">20</text>
<text x="1148.1" y="445.9" font-size="11" fill="#2a2340" text-anchor="middle">(188)</text>
<text x="1148.1" y="463.6" font-size="11" fill="#2a2340" text-anchor="middle">13</text>
<text x="1148.1" y="480.7" font-size="11" fill="#2a2340" text-anchor="middle">(196)</text>
<text x="1186.9" y="427.9" font-size="11" fill="#2a2340" text-anchor="middle">4</text>
<text x="1186.9" y="445.9" font-size="11" fill="#2a2340" text-anchor="middle">(190)</text>
<text x="1186.9" y="463.6" font-size="11" fill="#2a2340" text-anchor="middle">5</text>
<text x="1186.9" y="480.7" font-size="11" fill="#2a2340" text-anchor="middle">(198)</text>
<text x="1225.7" y="427.9" font-size="11" fill="#2a2340" text-anchor="middle">2</text>
<text x="1225.7" y="445.9" font-size="11" fill="#2a2340" text-anchor="middle">(190)</text>
<text x="1225.7" y="463.6" font-size="11" fill="#2a2340" text-anchor="middle">1</text>
<text x="1225.7" y="480.7" font-size="11" fill="#2a2340" text-anchor="middle">(199)</text>
<text x="1264.5" y="427.9" font-size="11" fill="#2a2340" text-anchor="middle">0</text>
<text x="1264.5" y="445.9" font-size="11" fill="#2a2340" text-anchor="middle">(191)</text>
<text x="1264.5" y="463.6" font-size="11" fill="#2a2340" text-anchor="middle">0</text>
<text x="1264.5" y="480.7" font-size="11" fill="#2a2340" text-anchor="middle">(199)</text>
</svg>
</body></html>
